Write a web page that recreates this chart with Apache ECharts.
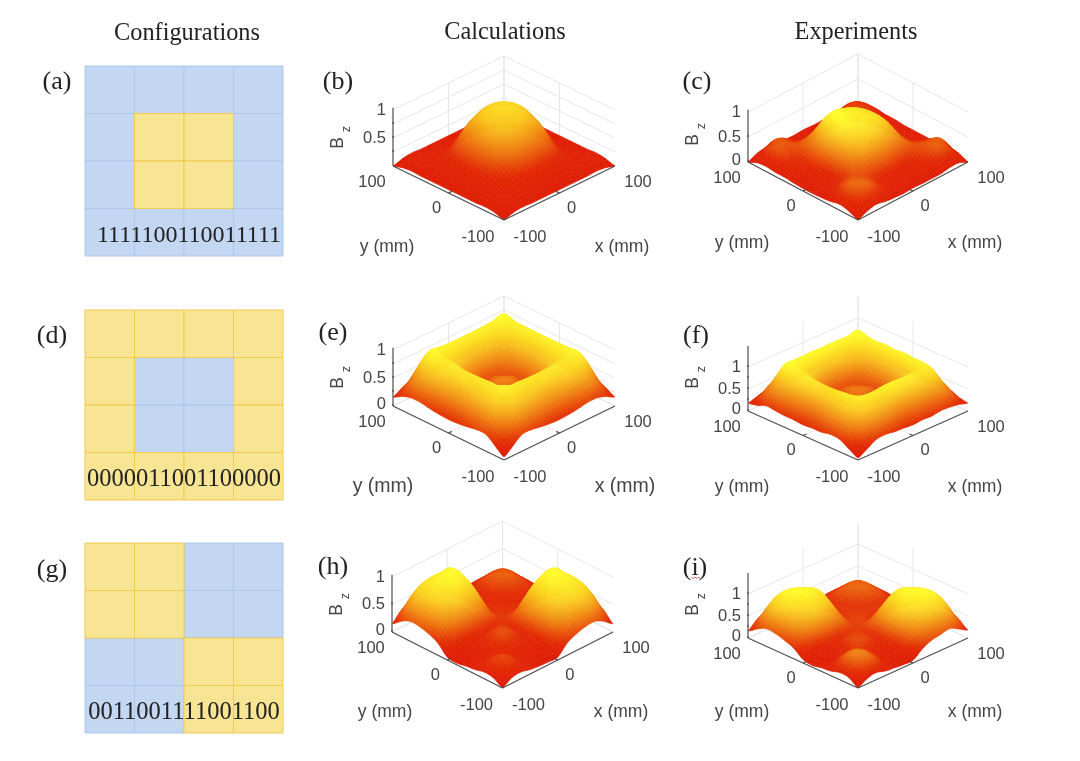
<!DOCTYPE html>
<html><head><meta charset="utf-8">
<script src="https://cdn.jsdelivr.net/npm/echarts@6/dist/echarts.min.js"></script>
<style>html,body{margin:0;background:#fff}#c{width:1080px;height:761px;filter:blur(0.6px)}</style>
</head><body><div id="c"></div>
<script>
// 1 = blue element, 0 = yellow element (rows from the top)
const configA=[[1,1,1,1],[1,0,0,1],[1,0,0,1],[1,1,1,1]];
const configD=[[0,0,0,0],[0,1,1,0],[0,1,1,0],[0,0,0,0]];
const configG=[[0,0,1,1],[0,0,1,1],[1,1,0,0],[1,1,0,0]];
const codeA='1111100110011111', codeD='0000011001100000', codeG='0011001111001100';
const titles=['Configurations','Calculations','Experiments'];
const axisGrid=[-100,-83,-67,-50,-33,-17,0,17,33,50,67,83,100]; // mm; matrices: rows y, columns x
const surfB=[
[.00,.05,.07,.06,.06,.06,.06,.06,.06,.06,.07,.05,.00],
[.05,.10,.12,.10,.09,.09,.09,.09,.09,.10,.12,.10,.05],
[.07,.12,.13,.13,.15,.17,.18,.17,.15,.13,.13,.12,.07],
[.06,.10,.13,.26,.42,.50,.52,.50,.42,.26,.13,.10,.06],
[.06,.09,.16,.42,.72,.84,.88,.84,.72,.42,.16,.09,.06],
[.06,.09,.18,.50,.84,.98,1.02,.98,.84,.50,.18,.09,.06],
[.06,.09,.19,.52,.88,1.02,1.05,1.02,.88,.52,.19,.09,.06],
[.06,.09,.18,.50,.84,.98,1.02,.98,.84,.50,.18,.09,.06],
[.06,.09,.16,.42,.72,.84,.88,.84,.72,.42,.16,.09,.06],
[.06,.10,.13,.26,.42,.50,.52,.50,.42,.26,.13,.10,.06],
[.07,.12,.13,.13,.15,.17,.18,.17,.15,.13,.13,.12,.07],
[.05,.10,.12,.10,.09,.09,.09,.09,.09,.10,.12,.10,.05],
[.00,.05,.07,.06,.06,.06,.06,.06,.06,.06,.07,.05,.00]];
const surfC=[
[.00,.08,.12,.08,.06,.05,.06,.05,.05,.05,.08,.08,.00],
[.08,.32,.40,.30,.16,.10,.10,.10,.14,.25,.38,.30,.08],
[.12,.40,.42,.34,.22,.16,.16,.16,.20,.32,.40,.38,.10],
[.08,.28,.34,.36,.42,.46,.48,.44,.40,.36,.32,.26,.08],
[.06,.14,.22,.44,.72,.80,.80,.74,.62,.38,.20,.12,.06],
[.05,.10,.18,.52,.90,.94,.96,.88,.74,.42,.16,.10,.06],
[.05,.10,.20,.58,1.05,1.0,.96,.90,.76,.42,.16,.10,.06],
[.06,.12,.24,.58,1.02,1.02,.96,.88,.72,.38,.16,.12,.06],
[.08,.16,.26,.50,.80,.88,.84,.76,.58,.30,.18,.14,.08],
[.08,.28,.32,.42,.48,.48,.44,.38,.32,.26,.26,.22,.08],
[.10,.36,.38,.30,.18,.16,.18,.16,.18,.26,.30,.28,.10],
[.08,.28,.36,.28,.14,.10,.10,.10,.14,.24,.30,.24,.08],
[.00,.08,.10,.08,.06,.05,.06,.05,.05,.06,.08,.08,.00]];
const surfE=[
[.05,.18,.30,.30,.27,.25,.24,.25,.27,.30,.30,.25,.16],
[.18,.50,.70,.72,.68,.62,.60,.62,.68,.72,.70,.50,.25],
[.30,.70,.95,.92,.90,.90,.90,.90,.90,.92,.96,.70,.30],
[.30,.72,.92,.80,.78,.74,.72,.74,.78,.84,.95,.72,.30],
[.27,.68,.90,.78,.50,.38,.34,.38,.50,.80,.95,.68,.27],
[.25,.62,.90,.74,.38,.34,.44,.34,.38,.74,.95,.62,.25],
[.24,.60,.90,.72,.34,.44,.50,.44,.34,.72,.95,.60,.24],
[.25,.62,.90,.74,.38,.34,.44,.34,.38,.74,.95,.62,.25],
[.27,.68,.92,.80,.50,.38,.34,.38,.50,.80,.95,.68,.27],
[.30,.72,.95,.84,.80,.74,.72,.74,.80,.88,.95,.72,.30],
[.30,.70,.98,.96,.95,.95,.95,.95,.95,.96,1.0,.70,.30],
[.25,.50,.70,.72,.68,.62,.60,.62,.68,.72,.70,.50,.25],
[.16,.25,.30,.30,.27,.25,.24,.25,.27,.30,.30,.25,.12]];
const surfF=[
[.04,.16,.28,.30,.27,.26,.24,.26,.25,.28,.27,.24,.18],
[.16,.48,.66,.68,.66,.60,.58,.62,.64,.66,.66,.48,.22],
[.28,.66,.96,1.0,.98,1.02,1.03,1.0,1.0,.98,.96,.62,.30],
[.30,.70,1.0,.84,.82,.80,.78,.82,.84,.90,1.02,.66,.30],
[.26,.66,.96,.82,.56,.42,.38,.42,.54,.82,1.02,.64,.28],
[.26,.60,.94,.78,.42,.36,.46,.36,.42,.76,1.04,.60,.26],
[.24,.58,.94,.76,.38,.46,.52,.46,.38,.74,1.02,.58,.24],
[.26,.60,.96,.78,.42,.36,.46,.36,.42,.76,1.04,.60,.26],
[.26,.64,.98,.84,.54,.42,.38,.42,.54,.84,1.02,.64,.26],
[.28,.68,1.04,.94,.86,.80,.78,.82,.86,.94,1.04,.68,.28],
[.30,.66,1.04,1.06,1.06,1.07,1.06,1.07,1.06,1.06,1.08,.66,.28],
[.22,.50,.66,.68,.66,.62,.60,.62,.64,.68,.66,.48,.20],
[.18,.24,.30,.30,.28,.26,.24,.26,.28,.30,.28,.22,.12]];
const surfH=[
[.00,.10,.12,.08,.06,.05,.05,.22,.30,.35,.36,.28,.15],
[.10,.24,.26,.16,.08,.06,.10,.42,.60,.68,.72,.62,.32],
[.12,.26,.28,.18,.12,.08,.13,.55,.78,.86,.86,.76,.38],
[.08,.16,.18,.18,.22,.18,.16,.60,.85,.95,.92,.80,.40],
[.06,.08,.12,.22,.32,.28,.20,.58,.80,.95,.94,.78,.38],
[.03,.06,.08,.18,.28,.28,.23,.50,.70,.82,.86,.76,.34],
[.05,.10,.13,.16,.20,.23,.25,.26,.26,.26,.24,.22,.16],
[.22,.42,.55,.60,.58,.50,.26,.24,.22,.20,.18,.16,.12],
[.30,.60,.78,.85,.80,.70,.26,.22,.20,.20,.22,.22,.14],
[.35,.68,.86,.95,.95,.82,.26,.20,.20,.26,.32,.30,.16],
[.36,.72,.86,.92,.94,.86,.24,.18,.22,.32,.38,.34,.16],
[.28,.62,.76,.80,.78,.76,.22,.16,.22,.30,.34,.30,.14],
[.15,.32,.38,.40,.38,.34,.16,.12,.14,.16,.16,.14,.08]];
const surfI=[
[.00,.12,.16,.10,.08,.06,.06,.22,.32,.36,.40,.30,.18],
[.14,.38,.46,.32,.12,.08,.12,.42,.64,.72,.80,.66,.34],
[.16,.46,.50,.36,.16,.10,.16,.58,.84,.96,1.0,.84,.42],
[.10,.30,.36,.30,.24,.18,.20,.66,.92,1.04,1.02,.86,.44],
[.08,.10,.14,.24,.34,.30,.24,.62,.86,1.0,.94,.80,.42],
[.04,.08,.10,.20,.30,.30,.28,.54,.74,.86,.80,.72,.38],
[.08,.12,.16,.20,.24,.28,.30,.30,.30,.30,.28,.26,.18],
[.24,.44,.58,.66,.62,.52,.30,.30,.28,.26,.24,.22,.16],
[.32,.62,.82,.92,.86,.72,.30,.28,.26,.26,.28,.28,.18],
[.38,.72,.96,1.04,1.0,.86,.30,.26,.26,.32,.38,.36,.20],
[.40,.78,1.0,1.02,.94,.80,.28,.24,.28,.38,.44,.40,.20],
[.30,.66,.84,.86,.80,.72,.26,.22,.28,.36,.40,.36,.18],
[.16,.34,.40,.44,.40,.34,.18,.16,.18,.20,.20,.18,.10]];

const colorStops=[[0,[222,22,0]],[.22,[226,38,0]],[.5,[240,132,16]],[.75,[250,205,32]],[1,[255,255,45]]];
function colorAt(t){t=Math.max(0,Math.min(1,t));
 for(let k=1;k<colorStops.length;k++){const a=colorStops[k-1],b=colorStops[k];
  if(t<=b[0]){const f=(t-a[0])/(b[0]-a[0]);return 'rgb('+a[1].map((v,q)=>Math.round(v+(b[1][q]-v)*f)).join(',')+')';}}
 return 'rgb(255,255,45)';}
// Smooth drawing of a read matrix (same idea as smooth:true on a line): the curve passes through every read value.
const SUB=4;
function cr(p0,p1,p2,p3,t){return .5*(2*p1+(p2-p0)*t+(2*p0-5*p1+4*p2-p3)*t*t+(3*p1-p0-3*p2+p3)*t*t*t);}
function smoothSurface(m){const n=m.length,g=(r,c)=>m[Math.max(0,Math.min(n-1,r))][Math.max(0,Math.min(n-1,c))],out=[];
 for(let a=0;a<=(n-1)*SUB;a++){const r=Math.min(n-2,Math.floor(a/SUB)),tr=a/SUB-r,row=[];
  for(let b=0;b<=(n-1)*SUB;b++){const c=Math.min(n-2,Math.floor(b/SUB)),tc=b/SUB-c,v=[];
   for(let k=-1;k<=2;k++)v.push(cr(g(r+k,c-1),g(r+k,c),g(r+k,c+1),g(r+k,c+2),tc));
   row.push(Math.max(0,cr(v[0],v[1],v[2],v[3],tr)));}
  out.push(row);}
 return out;}

const panels=[
 {s:surfB,left:393,w:222,cy:166,hh:54,zp:56,top:55,ztop:1,cmax:1.28,zl:[[.5,'0.5'],[1,'1']],zgrid:[.25,.5,.75,1],bz:138,tx:[387,622],ty:247,tf:17.5},
 {s:surfC,left:748,w:220,cy:162,hh:58,zp:50,top:55,ztop:1,cmax:1.06,zl:[[0,'0'],[.5,'0.5'],[1,'1']],zgrid:[0,.5,1],bz:135,tx:[742,975],ty:243,tf:17.5},
 {s:surfE,left:393,w:222,cy:406,hh:54,zp:56,top:297,ztop:1,cmax:1.02,zl:[[0,'0'],[.5,'0.5'],[1,'1']],zgrid:[0,.25,.5,.75,1],bz:378,tx:[383,625],ty:487,tf:19.5},
 {s:surfF,left:748,w:220,cy:411,hh:49,zp:44,top:297,ztop:1.48,cmax:1.1,zl:[[0,'0'],[.5,'0.5'],[1,'1']],zgrid:[0,.5,1],bz:378,tx:[742,975],ty:487,tf:17.5},
 {s:surfH,left:392,w:221,cy:632,hh:56,zp:55,top:523,ztop:1,cmax:.98,zl:[[0,'0'],[.5,'0.5'],[1,'1']],zgrid:[0,.5,1],bz:605,tx:[385,621],ty:712,tf:17.5},
 {s:surfI,left:748,w:220,cy:638,hh:50,zp:44,top:523,ztop:1.48,cmax:1.05,zl:[[0,'0'],[.5,'0.5'],[1,'1']],zgrid:[0,.5,1],bz:605,tx:[742,975],ty:712,tf:17.5}
];
const configs=[
 {m:configA,code:codeA,top:66,h:190,cx:189,fs:24},
 {m:configD,code:codeD,top:310,h:190,cx:184,fs:24.5},
 {m:configG,code:codeG,top:543,h:190,cx:184,fs:24.5}];
const grid=[],xAxis=[],yAxis=[],series=[];
function addAxes(box,xr,yr,inv){
 grid.push(Object.assign({containLabel:false,show:false},box));
 const n=grid.length-1;
 xAxis.push({gridIndex:n,type:'value',min:xr[0],max:xr[1],show:false,scale:true});
 yAxis.push({gridIndex:n,type:'value',min:yr[0],max:yr[1],show:false,scale:true,inverse:!!inv});
 return n;}
configs.forEach(cfg=>{
 const n=addAxes({left:85,top:cfg.top,width:198,height:cfg.h},[0,4],[0,4],true);
 const cells=[];
 [1,0].forEach(bit=>cfg.m.forEach((r,j)=>r.forEach((b,i)=>{if(b===bit)cells.push([i,j,b]);})));
 series.push({type:'custom',coordinateSystem:'cartesian2d',xAxisIndex:n,yAxisIndex:n,silent:true,animation:false,clip:false,
  encode:{x:0,y:1},data:cells,progressive:0,
  renderItem:(p,api)=>{const a=api.coord([api.value(0),api.value(1)]),b=api.coord([api.value(0)+1,api.value(1)+1]),bit=api.value(2);
   return {type:'rect',shape:{x:a[0],y:a[1],width:b[0]-a[0],height:b[1]-a[1]},
    style:{fill:bit?'#c3d6f2':'#f8e594',stroke:bit?'#aec8ec':'#f2ca4e',lineWidth:1}};}});
});
panels.forEach(P=>{
 const unit=P.hh/200,K=P.zp/unit,bottom=P.cy+P.hh,vTop=(bottom-P.top)/unit-200;
 const n=addAxes({left:P.left,top:P.top,width:P.w,height:bottom-P.top},[-200,200],[-200,vTop]);
 const pr=(x,y,z)=>[x-y,x+y+z*K];
 const segs=[];
 const wall=(a,b)=>segs.push({a,b});
 P.zgrid.forEach(z=>{wall([-100,100,z],[100,100,z]);wall([100,100,z],[100,-100,z]);});
 [0,100].forEach(t=>{wall([t,100,0],[t,100,P.ztop]);wall([100,t,0],[100,t,P.ztop]);});
 wall([0,-100,0],[0,100,0]);wall([-100,0,0],[100,0,0]);wall([-100,100,0],[100,100,0]);wall([100,100,0],[100,-100,0]);
 series.push({type:'custom',coordinateSystem:'cartesian2d',xAxisIndex:n,yAxisIndex:n,silent:true,animation:false,clip:false,progressive:0,
  encode:{x:0,y:1},data:segs.map((s,i)=>[0,0,i]),
  renderItem:(p,api)=>{const s=segs[api.value(2)],a=api.coord(pr(...s.a)),b=api.coord(pr(...s.b));
   return {type:'line',shape:{x1:a[0],y1:a[1],x2:b[0],y2:b[1]},style:{stroke:'#e4e4e4',lineWidth:.9}};}});
 const fine=smoothSurface(P.s),N=fine.length-1,cells=[];
 const fx=b=>{const c=Math.min(axisGrid.length-2,Math.floor(b/SUB));return axisGrid[c]+(axisGrid[c+1]-axisGrid[c])*(b/SUB-c);};
 for(let j=N-1;j>=0;j--)for(let i=N-1;i>=0;i--)cells.push([i,j]);
 series.push({type:'custom',coordinateSystem:'cartesian2d',xAxisIndex:n,yAxisIndex:n,silent:true,animation:false,clip:false,progressive:0,
  encode:{x:0,y:1},data:cells,
  renderItem:(p,api)=>{const i=api.value(0),j=api.value(1);
   const vs=[[i,j],[i+1,j],[i+1,j+1],[i,j+1]].map(([c,r])=>{const z=fine[r][c];return {z,q:api.coord(pr(fx(c),fx(r),z))};});
   let lo=vs[0],hi=vs[0];vs.forEach(v=>{if(v.z<lo.z)lo=v;if(v.z>hi.z)hi=v;});
   const fill=new echarts.graphic.LinearGradient(lo.q[0],lo.q[1],hi.q[0],hi.q[1],
     [{offset:0,color:colorAt(lo.z/P.cmax)},{offset:1,color:colorAt(hi.z/P.cmax)}],true);
   return {type:'polygon',shape:{points:vs.map(v=>v.q)},style:{fill,stroke:fill,lineWidth:.5,lineJoin:'round'}};}});
 const axisLines=[
  [[-100,100,0],[-100,-100,0]],[[-100,-100,0],[100,-100,0]],[[-100,100,0],[-100,100,P.ztop]],
  [[-100,0,0],[-94,0,0]],[[0,-100,0],[0,-94,0]]];
 const minor=P.zgrid.concat(P.ztop>1?[.25,.75]:[]);
 minor.forEach(z=>axisLines.push([[-100,100,z],[-96,104,z]]));
 const texts=[
  {at:[-100,100,0],dx:-21,dy:16,t:'100'},{at:[-100,0,0],dx:-12,dy:15,t:'0'},{at:[-100,-100,0],dx:-26,dy:17,t:'-100'},
  {at:[100,-100,0],dx:23,dy:16,t:'100'},{at:[0,-100,0],dx:12,dy:15,t:'0'},{at:[-100,-100,0],dx:26,dy:17,t:'-100'}];
 P.zl.forEach(([z,t])=>texts.push({at:[-100,100,z],dx:-7,dy:z===0?-2:0,t,right:true}));
 const items=axisLines.map(l=>({l})).concat(texts.map(t=>({t})));
 series.push({type:'custom',coordinateSystem:'cartesian2d',xAxisIndex:n,yAxisIndex:n,silent:true,animation:false,clip:false,progressive:0,
  encode:{x:0,y:1},data:items.map((s,i)=>[0,0,i]),
  renderItem:(p,api)=>{const it=items[api.value(2)];
   if(it.l){const a=api.coord(pr(...it.l[0])),b=api.coord(pr(...it.l[1]));
    return {type:'line',shape:{x1:a[0],y1:a[1],x2:b[0],y2:b[1]},style:{stroke:'#4d4d4d',lineWidth:1.2}};}
   const q=api.coord(pr(...it.t.at));
   return {type:'text',x:q[0]+it.t.dx,y:q[1]+it.t.dy,style:{text:it.t.t,font:'16.5px "Liberation Sans"',fill:'#444',
     align:it.t.right?'right':'center',verticalAlign:'middle'}};}});
});
const gfx=[];
const serif=(t,x,y,size)=>gfx.push({type:'text',x,y,z:100,silent:true,style:{text:t,font:size+'px "Liberation Serif"',fill:'#222',align:'center',verticalAlign:'middle'}});
serif(titles[0],187,34,24.3);serif(titles[1],505,33,24.3);serif(titles[2],856,33,24.3);
[['(a)',57,82],['(b)',338,82],['(c)',697,82],['(d)',52,336],['(e)',333,333],['(f)',696,336],['(g)',52,570],['(h)',333,567],['(i)',695,568]]
 .forEach(([t,x,y])=>serif(t,x,y,26));
configs.forEach(c=>serif(c.code,c.cx,c.top+c.h-20,c.fs));
panels.forEach(P=>{
 const sans=(t,x,y,f)=>gfx.push({type:'text',x,y,z:100,silent:true,style:{text:t,font:f+'px "Liberation Sans"',fill:'#444',align:'center',verticalAlign:'middle'}});
 sans('y (mm)',P.tx[0],P.ty,P.tf);sans('x (mm)',P.tx[1],P.ty,P.tf);
 const bx=P.left-55;
 gfx.push({type:'text',x:bx,y:P.bz+5,z:100,rotation:Math.PI/2,silent:true,style:{text:'B',font:'17.5px "Liberation Sans"',fill:'#444',align:'center',verticalAlign:'middle'}});
 gfx.push({type:'text',x:bx+9,y:P.bz-9,z:100,rotation:Math.PI/2,silent:true,style:{text:'z',font:'12.5px "Liberation Sans"',fill:'#444',align:'center',verticalAlign:'middle'}});
});
gfx.push({type:'polyline',z:100,silent:true,shape:{points:[[691,577],[693,578.5],[695,577],[697,578.5],[699,577],[700,578]]},style:{stroke:'#d8453a',lineWidth:.8,fill:'none'}});
const chart=echarts.init(document.getElementById('c'),null,{renderer:'canvas'});
chart.setOption({animation:false,backgroundColor:'#fff',grid,xAxis,yAxis,series,graphic:{elements:gfx}});
</script></body></html>
